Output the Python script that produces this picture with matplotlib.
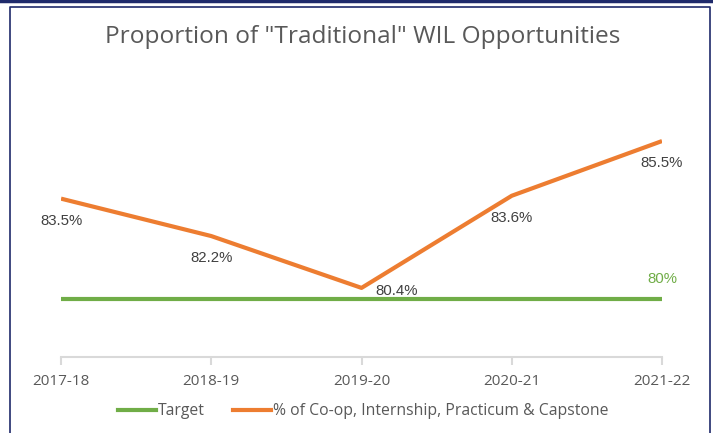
import matplotlib.pyplot as plt
from matplotlib.lines import Line2D

years = ["2017-18", "2018-19", "2019-20", "2020-21", "2021-22"]
share = [83.5, 82.2, 80.4, 83.6, 85.5]
target = [80, 80, 80, 80, 80]
share_labels = ["83.5%", "82.2%", "80.4%", "83.6%", "85.5%"]

orange = "#ED7D31"
green = "#70AD47"
grey = "#595959"

plt.rcParams["font.family"] = ["Open Sans", "DejaVu Sans"]

fig = plt.figure(figsize=(7.13, 4.33), dpi=100)
ax = fig.add_axes([0.0856, 0.1755, 0.8429, 0.665])

x = range(len(years))
ax.plot(x, target, color=green, lw=3, solid_capstyle="butt", label="Target")
ax.plot(x, share, color=orange, lw=3, solid_capstyle="butt",
        label="% of Co-op, Internship, Practicum & Capstone")

# data labels
for i, (v, lab) in enumerate(zip(share, share_labels)):
    if i == 2:
        ax.annotate(lab, (i, v), xytext=(10, -2), textcoords="offset points",
                    ha="left", va="center", fontsize=10.8, color="#404040",
                    family=["Liberation Sans"])
    else:
        ax.annotate(lab, (i, v), xytext=(0, -16), textcoords="offset points",
                    ha="center", va="center", fontsize=10.8, color="#404040",
                    family=["Liberation Sans"])
ax.annotate("80%", (4, target[4]), xytext=(0, 15), textcoords="offset points",
            ha="center", va="center", fontsize=10.8, color=green,
            family=["Liberation Sans"])

ax.set_xlim(0, 4)
ax.set_ylim(78, 88)
ax.set_xticks(list(x))
ax.set_xticklabels(years)
ax.set_yticks([])
for s in ["left", "right", "top"]:
    ax.spines[s].set_visible(False)
ax.spines["bottom"].set_color("#d9d9d9")
ax.spines["bottom"].set_linewidth(1.5)
ax.tick_params(axis="x", colors="#d9d9d9", length=6, width=1.5, labelsize=11,
               labelcolor=grey, pad=6)

fig.text(0.508, 0.915, 'Proportion of "Traditional" WIL Opportunities',
         ha="center", va="center", fontsize=17.6, color=grey)

handles = [Line2D([0], [0], color=green, lw=3),
           Line2D([0], [0], color=orange, lw=3)]
fig.legend(handles, ["Target", "% of Co-op, Internship, Practicum & Capstone"],
           loc="center", bbox_to_anchor=(0.51, 0.05), ncol=2, frameon=False,
           fontsize=11.3, labelcolor=grey, handlelength=2.4, handletextpad=0.15,
           columnspacing=1.8)

# frame around the chart
navy = "#1F2A6B"
fig.add_artist(Line2D([0, 1], [0.997, 0.997], color=navy, lw=2.5,
                      transform=fig.transFigure))
fig.add_artist(Line2D([0.014, 0.014, 0.996, 0.996], [0, 0.984, 0.984, 0],
                      color=navy, lw=1.2, transform=fig.transFigure))

fig.savefig("out.png", dpi=100)
